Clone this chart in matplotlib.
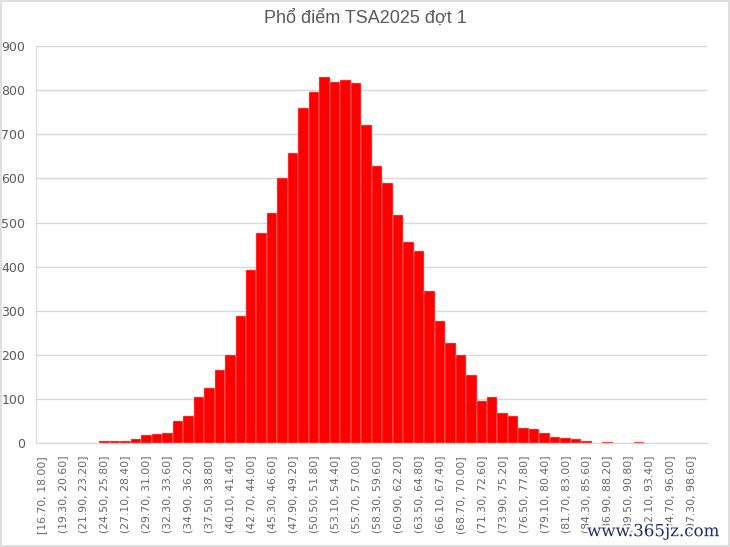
import matplotlib
matplotlib.use('Agg')
import matplotlib.pyplot as plt
import matplotlib.patheffects as pe
from matplotlib.patches import Rectangle

TITLE = 'Phổ điểm TSA2025 đợt 1'

# counts per score bin (64 bins of width 1.3 from 16.70 to 99.90)
COUNTS = [0, 0, 0, 0, 0, 0, 5, 5, 5, 10,
          19, 21, 23, 50, 62, 104, 125, 167, 199, 288,
          393, 476, 521, 601, 657, 759, 796, 829, 818, 824,
          816, 721, 627, 589, 516, 457, 436, 345, 278, 228,
          201, 154, 96, 104, 69, 62, 35, 32, 23, 14,
          12, 10, 5, 0, 4, 0, 0, 2, 0, 0,
          0, 0, 0, 0]

# every other bin is labelled on the x axis
TICK_LABELS = ['[16.70, 18.00]', '(19.30, 20.60]', '(21.90, 23.20]', '(24.50, 25.80]',
               '(27.10, 28.40]', '(29.70, 31.00]', '(32.30, 33.60]', '(34.90, 36.20]',
               '(37.50, 38.80]', '(40.10, 41.40]', '(42.70, 44.00]', '(45.30, 46.60]',
               '(47.90, 49.20]', '(50.50, 51.80]', '(53.10, 54.40]', '(55.70, 57.00]',
               '(58.30, 59.60]', '(60.90, 62.20]', '(63.50, 64.80]', '(66.10, 67.40]',
               '(68.70, 70.00]', '(71.30, 72.60]', '(73.90, 75.20]', '(76.50, 77.80]',
               '(79.10, 80.40]', '(81.70, 83.00]', '(84.30, 85.60]', '(86.90, 88.20]',
               '(89.50, 90.80]', '(92.10, 93.40]', '(94.70, 96.00]', '(97.30, 98.60]']

Y_TICKS = [0, 100, 200, 300, 400, 500, 600, 700, 800, 900]

GRAY = '#595959'


def plot_chart():
    fig = plt.figure(figsize=(7.3, 5.47), dpi=100)
    ax = fig.add_axes([0.0499, 0.1896, 0.9187, 0.7264])

    x = list(range(len(COUNTS)))
    edges = ['#ffa0a0' if c > 0 else 'none' for c in COUNTS]
    ax.bar(x, COUNTS, width=1.0, color='#ff0000', edgecolor=edges, linewidth=0.35, zorder=3)

    ax.set_xlim(-0.5, len(COUNTS) - 0.5)
    ax.set_ylim(0, 900)
    ax.set_yticks(Y_TICKS)
    ax.set_yticklabels([str(v) for v in Y_TICKS], fontsize=9, color=GRAY)
    ax.set_xticks(x[::2])
    ax.set_xticklabels(TICK_LABELS, rotation=90, fontsize=7.8, color='#666666')
    ax.tick_params(axis='both', length=0)
    ax.tick_params(axis='y', pad=8)
    ax.tick_params(axis='x', pad=9)

    ax.grid(axis='y', color='#d9d9d9', linewidth=1.0, zorder=0)
    for side in ['top', 'right']:
        ax.spines[side].set_visible(False)
    ax.spines['left'].set_color('#d9d9d9')
    ax.spines['bottom'].set_color('#d9d9d9')

    fig.text(0.5, 0.966, TITLE, ha='center', va='center', fontsize=13, color=GRAY,
             family=['Liberation Sans', 'DejaVu Sans'])

    # outer chart border
    fig.patches.append(Rectangle((0.001, 0.001), 0.997, 0.997, transform=fig.transFigure,
                                 fill=False, edgecolor='#d9d9d9', linewidth=1.2))

    # site watermark
    fig.text(0.985, 0.028, 'www.365jz.com', ha='right', va='center', fontsize=12,
             color='#1c2c6e', family='DejaVu Serif',
             path_effects=[pe.withStroke(linewidth=3, foreground='white')])

    fig.savefig('out.png', dpi=100)


if __name__ == '__main__':
    plot_chart()
